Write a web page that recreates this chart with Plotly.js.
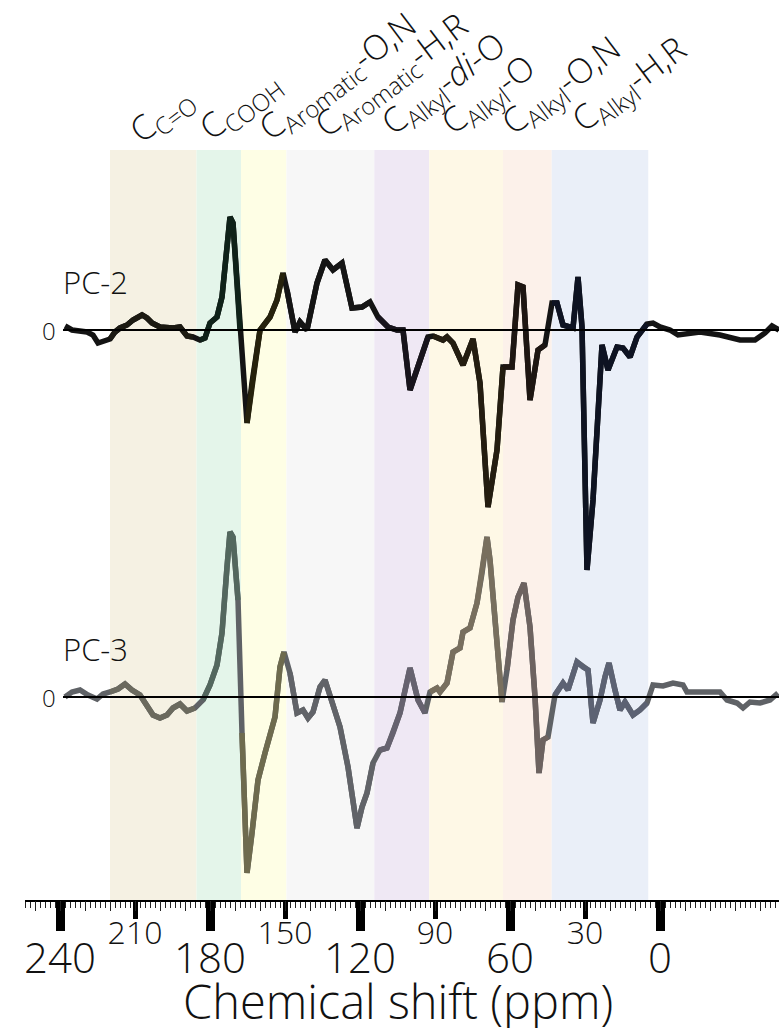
<!DOCTYPE html>
<html><head><meta charset="utf-8">
<script src="https://cdn.plot.ly/plotly-3.0.1.min.js"></script>
<style>html,body{margin:0;padding:0;background:#fff}</style>
</head><body><div id="chart" style="width:779px;height:1028px"></div>
<script>
// ---- data (chemical shift in ppm, loading in arbitrary units) ----
const pc2Shift = [238.0,235.2,229.2,226.8,224.8,220.0,218.0,216.0,213.2,210.8,207.2,205.2,203.2,200.0,194.8,192.0,189.2,186.8,184.0,182.0,180.0,177.2,175.2,173.2,172.0,170.8,168.0,165.2,163.2,160.0,156.0,153.2,150.8,149.2,146.0,144.0,141.2,137.2,134.0,130.8,127.2,123.2,119.2,116.0,112.8,108.8,105.2,102.8,100.0,96.0,92.8,90.8,86.8,85.2,82.8,78.8,76.8,74.8,72.0,68.8,65.2,62.8,59.2,56.8,54.8,52.0,48.8,46.0,43.2,41.2,38.8,34.8,32.8,31.2,29.2,26.8,23.2,20.8,17.2,14.8,12.0,9.2,5.2,2.8,0.0,-4.0,-7.2,-16.0,-24.0,-32.0,-38.0,-42.0,-44.8,-47.6];
const pc2Value = [0.04,0.00,-0.02,-0.05,-0.13,-0.09,-0.02,0.02,0.05,0.10,0.15,0.12,0.07,0.03,0.02,0.03,-0.06,-0.07,-0.10,-0.08,0.07,0.13,0.33,0.90,1.13,1.07,0.00,-0.93,-0.53,0.00,0.13,0.30,0.57,0.40,-0.02,0.08,0.00,0.47,0.70,0.60,0.67,0.22,0.23,0.28,0.13,0.03,0.00,0.00,-0.60,-0.30,-0.07,-0.06,-0.10,-0.07,-0.13,-0.35,-0.23,-0.09,-0.53,-1.77,-1.20,-0.37,-0.37,0.45,0.43,-0.70,-0.20,-0.15,0.27,0.27,0.05,0.02,0.53,0.03,-2.40,-1.70,-0.15,-0.40,-0.17,-0.18,-0.27,-0.07,0.06,0.07,0.03,0.00,-0.05,-0.02,-0.05,-0.10,-0.10,-0.03,0.04,0.00];
const pc3Shift = [238.0,235.2,232.0,228.8,225.2,222.8,220.0,216.8,214.0,211.2,208.0,205.2,202.8,200.0,197.2,194.8,192.0,189.2,188.0,186.0,182.8,180.0,177.2,175.2,173.2,172.0,170.8,168.8,167.2,165.2,163.2,160.8,158.0,156.0,154.0,152.0,150.4,148.0,145.2,142.8,140.8,138.8,136.0,134.0,131.2,128.0,124.8,121.2,119.2,117.2,114.8,112.0,109.2,106.8,104.0,100.0,96.8,94.0,92.0,89.2,88.0,85.2,82.8,80.0,78.8,76.0,73.2,71.2,69.2,68.0,65.2,63.2,61.2,58.8,56.8,54.4,52.0,50.0,48.4,46.8,44.8,42.0,38.8,36.8,33.2,30.8,28.8,26.8,24.0,22.0,20.4,18.0,16.0,14.0,10.8,8.0,5.2,2.8,-1.2,-5.2,-9.2,-10.8,-14.8,-18.8,-24.0,-26.8,-30.8,-33.2,-36.0,-40.0,-44.0,-47.2];
const pc3Value = [0.00,0.05,0.07,0.02,-0.02,0.03,0.05,0.08,0.13,0.07,0.02,-0.10,-0.18,-0.21,-0.18,-0.11,-0.07,-0.14,-0.13,-0.11,-0.03,0.12,0.32,0.64,1.30,1.65,1.60,0.97,-0.36,-1.76,-1.36,-0.83,-0.56,-0.36,-0.20,0.30,0.45,0.24,-0.16,-0.13,-0.21,-0.15,0.10,0.17,-0.03,-0.30,-0.70,-1.31,-1.10,-0.96,-0.66,-0.53,-0.51,-0.36,-0.16,0.29,-0.03,-0.16,0.05,0.09,0.05,0.14,0.45,0.49,0.65,0.69,0.94,1.24,1.60,1.37,0.50,-0.05,0.27,0.77,1.00,1.14,0.70,0.00,-0.76,-0.43,-0.40,0.02,0.14,0.07,0.35,0.30,0.27,-0.26,-0.03,0.20,0.34,0.07,-0.13,-0.05,-0.18,-0.13,-0.06,0.12,0.11,0.14,0.12,0.05,0.05,0.04,0.05,-0.03,-0.06,-0.11,-0.05,-0.06,-0.03,0.04];
const seriesNames = ['PC-2','PC-3'];
const bandLabels = ['C<sub>C=O</sub>','C<sub>COOH</sub>','C<sub>Aromatic</sub>-O,N','C<sub>Aromatic</sub>-H,R','C<sub>Alkyl</sub>-<i>di</i>-O','C<sub>Alkyl</sub>-O','C<sub>Alkyl</sub>-O,N','C<sub>Alkyl</sub>-H,R'];
const bandHigh = [220.0,185.4,167.6,149.4,114.3,92.3,62.8,43.3];
const bandLow  = [185.4,167.6,149.4,114.3,92.3,62.8,43.3,4.7];
const majorTickVals = [240,180,120,60,0];
const midTickVals = [210,150,90,30];
const xTitle = 'Chemical shift (ppm)';

// ---- styles / layout positions ----
const bandFill = ['#f5f1e3','#e4f5ea','#fefee5','#f7f7f7','#efe8f4','#fef8e6','#fcf1ea','#eaeff8'];
const pc2Tint = ['#1c1a12','#0f2219','#26220c','#151515','#18141c','#241d10','#1e1612','#0e1322'];
const pc3Tint = ['#6b6a5e','#53675e','#6e6b4e','#616368','#66626f','#786f5e','#6d6360','#5c6273'];
const labelX = [217.2,189.2,165.6,143.2,116.4,92.4,68.4,40.4];
const labelY = [0.989,0.992,0.993,0.996,1.000,1.000,1.000,1.003];
const curveStart = 238.8, curveEnd = -47.6;
const FONT = '"Open Sans", Lato, sans-serif';

const traces = [];
function addSeries(xs, ys, base, tints, yaxis, name){
  traces.push({x: xs, y: ys, type:'scatter', mode:'lines', name: name, yaxis: yaxis,
    line:{color: base, width:5.5}, hoverinfo:'skip', showlegend:false});
  for (let i=0;i<bandHigh.length;i++){
    const sx=[], sy=[];
    for (let j=0;j<xs.length;j++){
      if (xs[j] <= bandHigh[i] && xs[j] >= bandLow[i]) { sx.push(xs[j]); sy.push(ys[j]); }
    }
    if (sx.length>1) traces.push({x:sx, y:sy, type:'scatter', mode:'lines', yaxis:yaxis,
      line:{color:tints[i], width:5.5}, hoverinfo:'skip', showlegend:false});
  }
}
addSeries(pc2Shift, pc2Value, '#141414', pc2Tint, 'y', seriesNames[0]);
addSeries(pc3Shift, pc3Value, '#5f6266', pc3Tint, 'y2', seriesNames[1]);
// zero reference lines (drawn on the overlay axes so those axes render, above the curves)
traces.push({x:[curveStart, curveEnd], y:[0,0], xaxis:'x2', yaxis:'y', type:'scatter', mode:'lines',
  line:{color:'#000', width:2}, hoverinfo:'skip', showlegend:false});
traces.push({x:[curveStart, curveEnd], y:[0,0], xaxis:'x3', yaxis:'y2', type:'scatter', mode:'lines',
  line:{color:'#000', width:2}, hoverinfo:'skip', showlegend:false});

const shapes = bandHigh.map((h,i)=>({type:'rect', xref:'x', yref:'paper', x0:h, x1:bandLow[i], y0:0, y1:1,
  fillcolor:bandFill[i], line:{width:0}, layer:'below'}));

const annotations = bandLabels.map((t,i)=>({text:t, xref:'x', yref:'paper', x:labelX[i], y:labelY[i],
  xanchor:'left', yanchor:'bottom', textangle:-37, showarrow:false,
  font:{family:FONT, size:34, color:'#111', weight:300}}));
[['y',0],['y2',1]].forEach(([ax,k])=>{
  annotations.push({text:'0', xref:'x', yref:ax, x:curveStart+2.2, y:0, xanchor:'right', yanchor:'middle',
    showarrow:false, font:{family:FONT, size:24, color:'#111', weight:300}});
  annotations.push({text:seriesNames[k], xref:'x', yref:ax, x:curveStart+1, y:0.48, xanchor:'left', yanchor:'middle',
    showarrow:false, font:{family:FONT, size:31, color:'#111', weight:300}});
});
annotations.push({text:xTitle, xref:'paper', yref:'paper', x:0.495, y:-0.1347, xanchor:'center', yanchor:'middle',
  showarrow:false, font:{family:FONT, size:47, color:'#111', weight:300}});

const layout = {
  width:779, height:1028, paper_bgcolor:'#fff', plot_bgcolor:'rgba(0,0,0,0)',
  margin:{l:25, r:0, t:150, b:128}, showlegend:false,
  xaxis:{range:[254,-47.6], tickmode:'array', tickvals:majorTickVals, ticks:'outside', ticklen:29, tickwidth:9,
    tickcolor:'#000', showline:true, linecolor:'#000', linewidth:2, showgrid:false, zeroline:false,
    tickfont:{family:FONT, size:42, color:'#111', weight:300}, ticklabelstandoff:-8,
    minor:{tickmode:'linear', tick0:0, dtick:2, ticks:'outside', ticklen:6, tickwidth:1, tickcolor:'#222', showgrid:false}},
  xaxis2:{matches:'x', overlaying:'x', anchor:'y', side:'bottom', tickmode:'array', tickvals:midTickVals,
    ticks:'outside', ticklen:18, tickwidth:5, tickcolor:'#000', showline:false, showgrid:false, zeroline:false,
    tickfont:{family:FONT, size:32, color:'#111', weight:300}, ticklabelstandoff:-13},
  xaxis3:{matches:'x', overlaying:'x', anchor:'y', side:'bottom', tickmode:'linear', tick0:0, dtick:10,
    ticks:'outside', ticklen:10, tickwidth:1, tickcolor:'#222', showticklabels:false, showline:false, showgrid:false, zeroline:false},
  yaxis:{range:[-5.7,1.8], visible:false, showgrid:false, zeroline:false},
  yaxis2:{range:[-2.03,5.47], overlaying:'y', visible:false, showgrid:false, zeroline:false},
  shapes:shapes, annotations:annotations
};
Plotly.newPlot('chart', traces, layout, {staticPlot:true, displayModeBar:false});
</script></body></html>
